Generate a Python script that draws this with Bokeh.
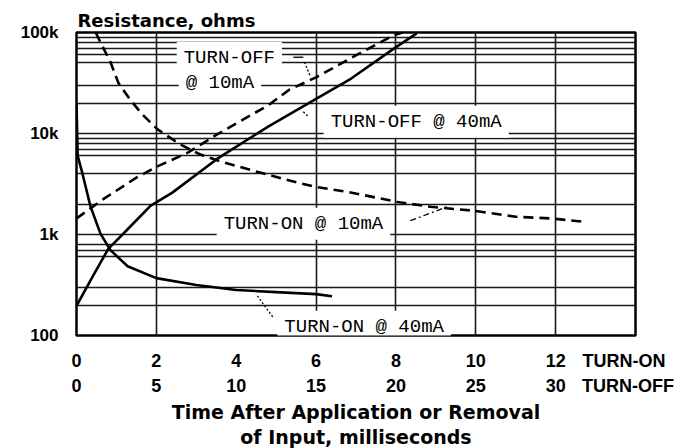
from bokeh.plotting import figure
from bokeh.models import Range1d, LinearAxis, FixedTicker, Label, Title
from bokeh.embed import file_html
from bokeh.resources import INLINE

# ---- data ----
# TURN-ON curves: time in ms on the 0..14 scale
on40_t = [0, 0.03, 0.15, 0.35, 0.6, 0.85, 1.28, 2.0, 3.0, 4.0, 5.0, 6.0, 6.4]
on40_r = [20000, 6000, 4000, 1900, 1020, 700, 485, 370, 316, 282, 269, 257, 245]

on10_t = [0.48, 0.6, 0.85, 1.05, 1.35, 1.65, 2.03, 2.6, 3.1, 3.6, 4.6, 5.36, 6.0, 6.8,
          8.04, 8.87, 9.94, 11.0, 11.9, 12.7]
on10_r = [100000, 80000, 51000, 31600, 21500, 15400, 11000, 7800, 6200, 5300, 4100, 3400,
          2950, 2640, 2100, 1880, 1720, 1500, 1440, 1340]

# TURN-OFF curves: time in ms on the 0..35 scale
off40_t = [0, 1.06, 2.0, 2.76, 4.63, 6.0, 8.8, 12.0, 15.0, 17.2, 19.8, 21.3]
off40_r = [197, 396, 725, 955, 1920, 2600, 5600, 11700, 22000, 35000, 68000, 98000]

off10_t = [0, 1.7, 3.8, 5.1, 7.0, 8.8, 12.0, 13.3, 15.0, 17.2, 19.8, 20.4]
off10_r = [1440, 2250, 3700, 4750, 6500, 9800, 19000, 27000, 36000, 56000, 93000, 100000]

on_ticks = [0, 2, 4, 6, 8, 10, 12]
off_ticks = [0, 5, 10, 15, 20, 25, 30]
on_name_pos, on_name = 13.71, "TURN-ON"      # scale name shown after the last tick
off_name_pos, off_name = 34.53, "TURN-OFF"
y_ticks = [100, 1000, 10000, 100000]
y_tick_labels = ["100", "1k", "10k", "100k"]
x_grid_lines = [2, 6, 8, 10, 12]
y_grid_lines = [200, 300, 600, 700, 800, 1000, 2000, 4000, 6000, 7000, 8000, 9000,
                10000, 20000, 30000, 50000, 60000, 70000, 80000, 90000]

# curve tags (text, anchor time on turn-on scale, anchor resistance)
tags = [("TURN-OFF", 2.51, 56000), ("@ 10mA", 2.56, 31500),
        ("TURN-OFF @ 40mA", 6.19, 13100), ("TURN-ON @ 10mA", 3.51, 1280),
        ("TURN-ON @ 40mA", 5.03, 122)]
# leader strokes from the tags to their curves (x0, r0, x1, r1, dash)
leaders = [(5.43, 56900, 5.68, 56900, "solid"), (5.71, 50800, 5.86, 36500, "2 2"),
           (8.36, 1371, 9.29, 1884, "6 3 2 3"), (5.68, 16400, 5.81, 14700, "2 2"),
           (4.53, 247, 4.93, 150, "2 2")]

TITLEFONT = "DejaVu Sans"
TICKFONT = "Liberation Sans"
MONO = "Liberation Mono"

W, H = 688, 448
p = figure(width=W, height=H, output_backend="svg", toolbar_location=None,
           x_range=Range1d(0, 14), y_range=Range1d(100, 100000), y_axis_type="log",
           min_border_left=76, min_border_right=53, min_border_top=32,
           min_border_bottom=110)
p.extra_x_ranges = {"off": Range1d(0, 35)}
p.background_fill_color = "white"
p.border_fill_color = "white"
p.outline_line_color = "black"
p.outline_line_width = 2.5

p.title.text = "Resistance, ohms"
p.title.align = "left"
p.title.text_font = TITLEFONT
p.title.text_font_style = "bold"
p.title.text_font_size = "18px"
p.title.text_color = "black"
p.title.standoff = 3
p.title.offset = 1

# grid
p.xgrid.ticker = FixedTicker(ticks=x_grid_lines)
p.ygrid.ticker = FixedTicker(ticks=y_grid_lines)
for g in (p.xgrid[0], p.ygrid[0]):
    g.grid_line_color = "#1a1a1a"
    g.grid_line_width = 1.6

# y axis
ya = p.yaxis[0]
ya.ticker = FixedTicker(ticks=y_ticks)
ya.major_label_overrides = {t: s for t, s in zip(y_ticks, y_tick_labels)}
ya.axis_line_color = None
ya.major_tick_line_color = None
ya.major_tick_out = 0
ya.major_tick_in = 0
ya.minor_tick_line_color = None
ya.minor_tick_out = 0
ya.major_label_standoff = 18
ya.major_label_text_font = TICKFONT
ya.major_label_text_font_style = "bold"
ya.major_label_text_font_size = "17px"
ya.major_label_text_color = "black"

# x axes (turn-on scale, turn-off scale)
xa = p.xaxis[0]
xa.ticker = FixedTicker(ticks=on_ticks + [on_name_pos])
xa.major_label_overrides = {on_name_pos: on_name}
xa2 = LinearAxis(x_range_name="off", ticker=FixedTicker(ticks=off_ticks + [off_name_pos]))
xa2.major_label_overrides = {off_name_pos: off_name}
p.add_layout(xa2, "below")
for ax, so in ((xa, 15), (xa2, 2)):
    ax.axis_line_color = None
    ax.major_tick_line_color = None
    ax.major_tick_out = 0
    ax.major_tick_in = 0
    ax.minor_tick_line_color = None
    ax.minor_tick_out = 0
    ax.major_label_standoff = so
    ax.major_label_text_font = TICKFONT
    ax.major_label_text_font_style = "bold"
    ax.major_label_text_font_size = "18px"
    ax.major_label_text_color = "black"

for txt, so in (("Time After Application or Removal", 0), ("of Input, milliseconds", 2)):
    p.add_layout(Title(text=txt, align="center", text_font=TITLEFONT,
                       text_font_style="bold", text_font_size="19px",
                       text_color="black", standoff=so, offset=0), "below")

# curves
p.line(on40_t, on40_r, line_color="black", line_width=2.6)
p.line(on10_t, on10_r, line_color="black", line_width=2.6, line_dash="10 6")
p.line(off40_t, off40_r, line_color="black", line_width=2.6, x_range_name="off")
p.line(off10_t, off10_r, line_color="black", line_width=2.6, line_dash="10 6",
       x_range_name="off")

for txt, x, y in tags:
    p.add_layout(Label(x=x, y=y, text=txt, text_font=MONO, text_font_size="19px",
                       text_color="black", text_baseline="middle", text_align="left",
                       background_fill_color="white", padding=(7, 5)))

for x0, r0, x1, r1, dash in leaders:
    p.line([x0, x1], [r0, r1], line_color="black", line_width=1.3, line_dash=dash,
           level="annotation")

open("out.html", "w").write(file_html(p, INLINE))
